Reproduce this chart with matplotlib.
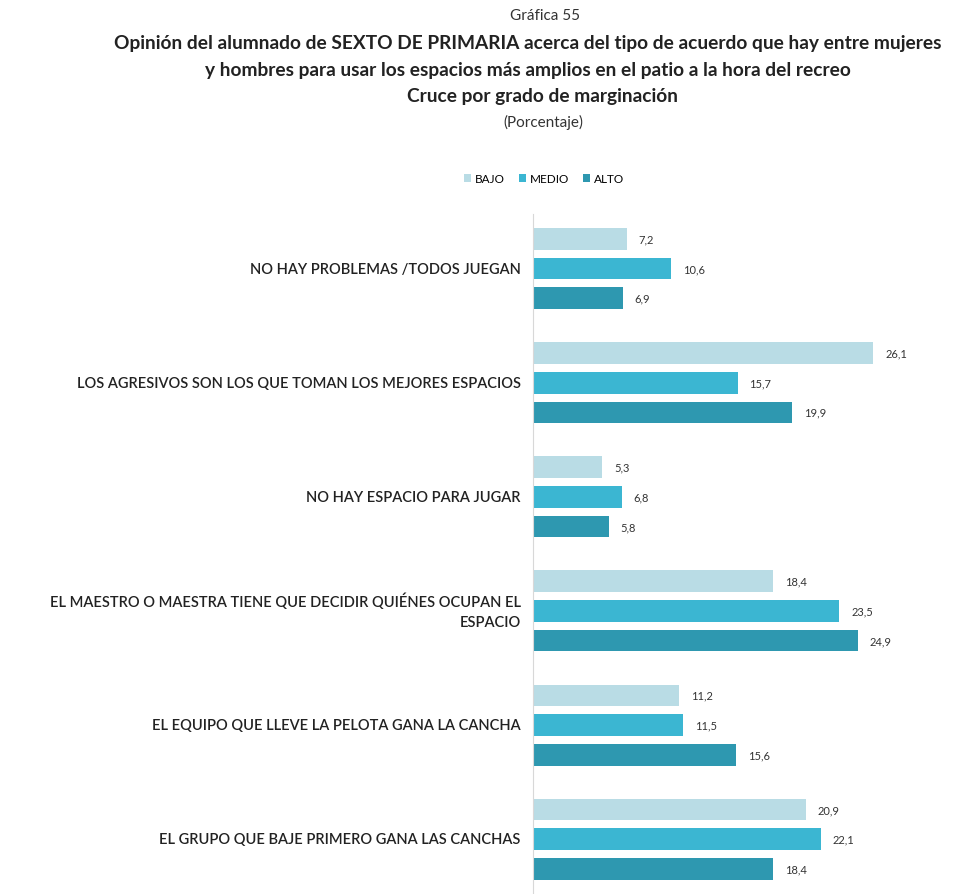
import numpy as np
import matplotlib.pyplot as plt
from matplotlib.transforms import offset_copy

plt.rcParams['font.family'] = ['Lato', 'DejaVu Sans']

#Data
categories = [
  'NO HAY PROBLEMAS /TODOS JUEGAN',
  'LOS AGRESIVOS SON LOS QUE TOMAN LOS MEJORES ESPACIOS',
  'NO HAY ESPACIO PARA JUGAR',
  'EL MAESTRO O MAESTRA TIENE QUE DECIDIR QUIÉNES OCUPAN EL\nESPACIO',
  'EL EQUIPO QUE LLEVE LA PELOTA GANA LA CANCHA',
  'EL GRUPO QUE BAJE PRIMERO GANA LAS CANCHAS',
]
series_names = ['BAJO', 'MEDIO', 'ALTO']
bajo = [7.2, 26.1, 5.3, 18.4, 11.2, 20.9]
medio = [10.6, 15.7, 6.8, 23.5, 11.5, 22.1]
alto = [6.9, 19.9, 5.8, 24.9, 15.6, 18.4]
colors = ['#b9dce5', '#3bb6d2', '#2e98b0']

fig = plt.figure(figsize=(9.8, 8.95), dpi=100)
ax = fig.add_axes([0.544, 0.0, 0.399, 0.76])

y = np.arange(len(categories))
step = 0.26
height = 0.19
for k, (name, vals, c) in enumerate(zip(series_names, [bajo, medio, alto], colors)):
  pos = y + (k - 1) * step
  ax.barh(pos, vals, height=height, color=c, label=name)
  for p, v in zip(pos, vals):
    ax.text(v + 0.9, p, f'{v:.1f}'.replace('.', ','), va='center', ha='left',
            fontsize=8, color='#333333')

ax.set_xlim(0, 30)
ax.set_ylim(5.48, -0.48)
ax.set_yticks([])
ax.set_xticks([])

#category labels, right aligned (also the wrapped line)
lbl_trans = offset_copy(ax.get_yaxis_transform(), fig=fig, x=-9, y=0, units='points')
for yi, cat in zip(y, categories):
  ax.text(0, yi, cat, transform=lbl_trans, ha='right', va='center', multialignment='right',
          fontsize=10.5, color='#222222', fontweight='semibold', linespacing=1.5)

for s in ['top', 'right', 'bottom']:
  ax.spines[s].set_visible(False)
ax.spines['left'].set_color('#d8d8d8')

fig.text(0.556, 0.982, 'Gráfica 55', ha='center', va='center', fontsize=11, color='#333333')
fig.text(0.539, 0.951, 'Opinión del alumnado de SEXTO DE PRIMARIA acerca del tipo de acuerdo que hay entre mujeres',
         ha='center', va='center', fontsize=13.8, fontweight='bold', color='#222222')
fig.text(0.539, 0.921, 'y hombres para usar los espacios más amplios en el patio a la hora del recreo',
         ha='center', va='center', fontsize=13.8, fontweight='bold', color='#222222')
fig.text(0.554, 0.892, 'Cruce por grado de marginación',
         ha='center', va='center', fontsize=13.8, fontweight='bold', color='#222222')
fig.text(0.554, 0.863, '(Porcentaje)', ha='center', va='center', fontsize=11, color='#333333')

fig.legend(loc='center', bbox_to_anchor=(0.555, 0.799), ncol=3, frameon=False,
           fontsize=8.5, handlelength=0.6, handleheight=0.6, handletextpad=0.3,
           columnspacing=1.2)

fig.savefig('out.png', dpi=100)
